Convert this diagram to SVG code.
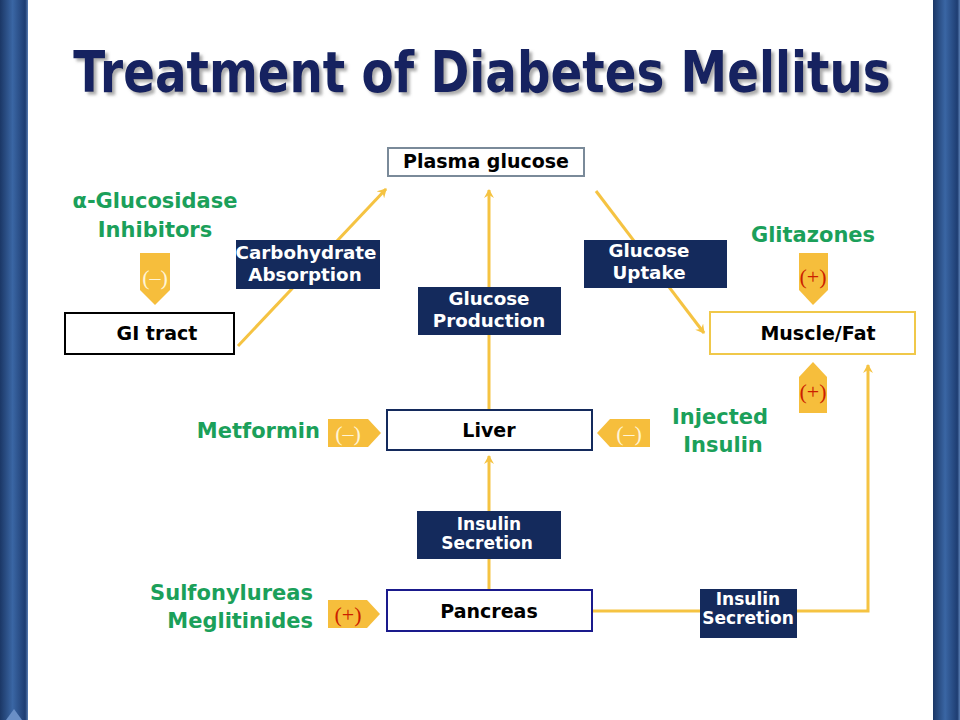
<svg xmlns="http://www.w3.org/2000/svg" width="960" height="720" viewBox="0 0 960 720">
<defs>
<style>
.box{fill:#ffffff;stroke-width:2}
.bt{font-family:"DejaVu Sans","Liberation Sans",sans-serif;font-weight:bold;font-size:19px;fill:#000;text-anchor:middle}
.lab{fill:#142a5c}
.lt{font-family:"DejaVu Sans","Liberation Sans",sans-serif;font-weight:bold;font-size:18.3px;fill:#fff;text-anchor:middle}
.ls{font-family:"DejaVu Sans","Liberation Sans",sans-serif;font-weight:bold;font-size:17px;fill:#fff;text-anchor:middle}
.gr{font-family:"DejaVu Sans","Liberation Sans",sans-serif;font-weight:bold;font-size:21px;fill:#1ba05a}
.badge{fill:#f6be3c}
.sg{font-family:"Liberation Serif","DejaVu Serif",serif;font-size:22px;text-anchor:middle}
.minus{fill:#fff5d6}
.plus{fill:#cc1f00}
.con{fill:none;stroke:#f5c342;stroke-width:3}
</style>
<marker id="ah" markerWidth="10" markerHeight="10" refX="8" refY="5" orient="auto" markerUnits="userSpaceOnUse">
<path d="M0,0 L9,5 L0,10 L3,5 Z" fill="#f5c342"/>
</marker>
<linearGradient id="bar" x1="0" y1="0" x2="1" y2="0">
<stop offset="0" stop-color="#1b3766"/>
<stop offset="0.45" stop-color="#3a66a4"/>
<stop offset="0.9" stop-color="#1e3d72"/>
<stop offset="1" stop-color="#5b7fb4"/>
</linearGradient>
<filter id="sh" x="-10%" y="-30%" width="120%" height="170%">
<feDropShadow dx="3" dy="3" stdDeviation="1.5" flood-color="#777" flood-opacity="0.6"/>
</filter>
</defs>
<rect width="960" height="720" fill="#ffffff"/>
<rect x="0" y="0" width="28" height="720" fill="url(#bar)"/>
<polygon points="6,720 14,709 22,720" fill="#6a8fc6"/>
<rect x="933" y="0" width="27" height="720" fill="url(#bar)"/>

<g filter="url(#sh)">
<text transform="translate(482,92) scale(0.822,1)" x="0" y="0" font-family="DejaVu Sans,Liberation Sans,sans-serif" font-weight="bold" font-size="57" fill="#132360" text-anchor="middle">Treatment of Diabetes Mellitus</text>
</g>

<g id="connectors">
<line class="con" x1="238" y1="346" x2="386" y2="189" marker-end="url(#ah)"/>
<line class="con" x1="596" y1="191" x2="704" y2="333" marker-end="url(#ah)"/>
<line class="con" x1="489" y1="410" x2="489" y2="190" marker-end="url(#ah)"/>
<line class="con" x1="489" y1="590" x2="489" y2="456" marker-end="url(#ah)"/>
<polyline class="con" points="592,611 868,611 868,365" marker-end="url(#ah)"/>
</g>

<g id="plasma">
<rect class="box" x="388" y="148" width="196" height="28" stroke="#7a8a99" stroke-width="1"/>
<text class="bt" x="486" y="168">Plasma glucose</text>
</g>
<g id="gi">
<rect class="box" x="65" y="313" width="169" height="41" stroke="#000"/>
<text class="bt" x="157" y="340">GI tract</text>
</g>
<g id="muscle">
<rect class="box" x="710" y="312" width="205" height="42" stroke="#f0c84a"/>
<text class="bt" x="818" y="340">Muscle/Fat</text>
</g>
<g id="liver">
<rect class="box" x="387" y="410" width="205" height="40" stroke="#142a5c"/>
<text class="bt" x="489" y="437">Liver</text>
</g>
<g id="pancreas">
<rect class="box" x="387" y="590" width="205" height="41" stroke="#1a1a8c"/>
<text class="bt" x="489" y="618">Pancreas</text>
</g>

<g id="lbl-carb">
<rect class="lab" x="236" y="240" width="144" height="49"/>
<text class="lt" x="306" y="259">Carbohydrate</text>
<text class="lt" x="305" y="281">Absorption</text>
</g>
<g id="lbl-uptake">
<rect class="lab" x="584" y="240" width="143" height="48"/>
<text class="lt" x="649" y="257">Glucose</text>
<text class="lt" x="649" y="279">Uptake</text>
</g>
<g id="lbl-prod">
<rect class="lab" x="418" y="287" width="143" height="48"/>
<text class="lt" x="489" y="305">Glucose</text>
<text class="lt" x="489" y="327">Production</text>
</g>
<g id="lbl-ins1">
<rect class="lab" x="417" y="511" width="144" height="48"/>
<text class="ls" x="489" y="530">Insulin</text>
<text class="ls" x="487" y="549">Secretion</text>
</g>
<g id="lbl-ins2">
<rect class="lab" x="700" y="589" width="97" height="49"/>
<text class="ls" x="748" y="605">Insulin</text>
<text class="ls" x="748" y="624">Secretion</text>
</g>

<g id="agi">
<text class="gr" x="155" y="208" text-anchor="middle">α-Glucosidase</text>
<text class="gr" x="155" y="237" text-anchor="middle">Inhibitors</text>
<polygon class="badge" points="140,253 170,253 170,290 155,305 140,290"/>
<text class="sg minus" x="155" y="285">(–)</text>
</g>
<g id="glitazones">
<text class="gr" x="813" y="242" text-anchor="middle">Glitazones</text>
<polygon class="badge" points="799,253 828,253 828,290 813,305 799,290"/>
<text class="sg plus" x="813" y="284">(+)</text>
<polygon class="badge" points="799,377 813,362 827,377 827,413 799,413"/>
<text class="sg plus" x="813" y="399">(+)</text>
</g>
<g id="metformin">
<text class="gr" x="320" y="438" text-anchor="end">Metformin</text>
<polygon class="badge" points="328,419 368,419 381,433 368,447 328,447"/>
<text class="sg minus" x="348" y="441">(–)</text>
</g>
<g id="injected">
<text class="gr" x="720" y="424" text-anchor="middle">Injected</text>
<text class="gr" x="723" y="452" text-anchor="middle">Insulin</text>
<polygon class="badge" points="597,433 610,419 650,419 650,447 610,447"/>
<text class="sg minus" x="629" y="441">(–)</text>
</g>
<g id="sulfonylureas">
<text class="gr" x="313" y="600" text-anchor="end">Sulfonylureas</text>
<text class="gr" x="313" y="628" text-anchor="end">Meglitinides</text>
<polygon class="badge" points="328,600 367,600 380,614 367,628 328,628"/>
<text class="sg plus" x="348" y="622">(+)</text>
</g>
</svg>
